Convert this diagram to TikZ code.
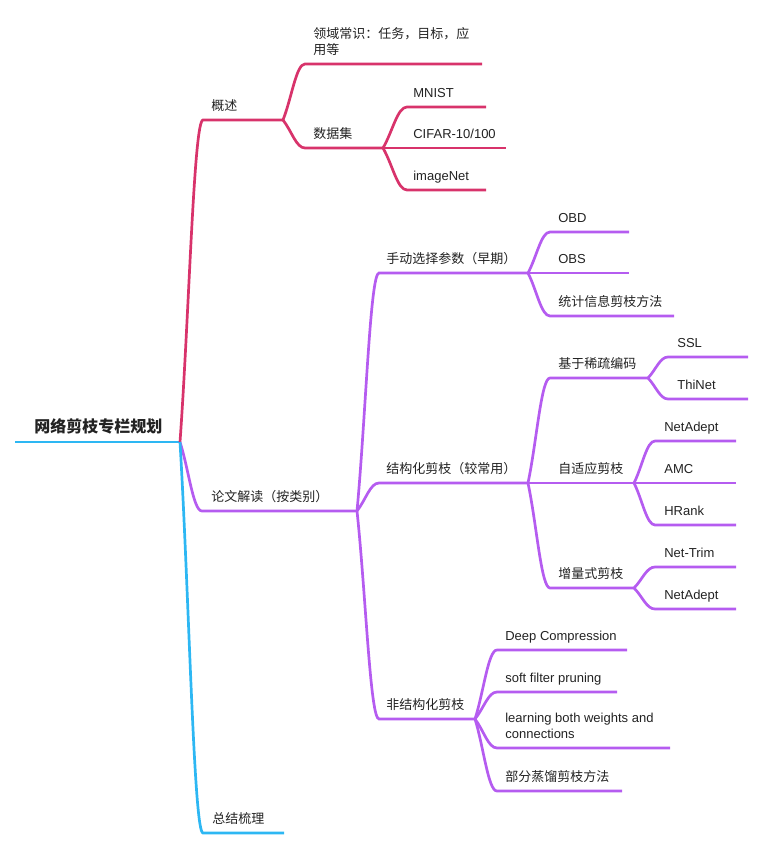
\documentclass[tikz,border=0pt]{standalone}
\usepackage{fontspec}
\setmainfont{Liberation Sans}
\newfontfamily\cjk{Noto Sans CJK SC}
\usetikzlibrary{calc}

\definecolor{rosebr}{HTML}{D8336B}
\definecolor{violbr}{HTML}{B55CF0}
\definecolor{skybr}{HTML}{2DB7F3}
\definecolor{inkgray}{HTML}{222222}

\tikzset{
	twig/.style={to path={.. controls ($(\tikztostart)!0.4!(\tikztotarget)$) and ($(\tikztostart |- \tikztotarget)!0.6!(\tikztotarget)$) .. (\tikztotarget) \tikztonodes}},
	topic/.style={anchor=base west, inner sep=0pt, text=inkgray, font=\fontsize{13}{16}\selectfont\cjk},
	entry/.style={anchor=base west, inner sep=0pt, text=inkgray, font=\fontsize{13}{16}\selectfont},
}

\begin{document}
\begin{tikzpicture}[x=1pt, y=-1pt, line width=2.7pt]
		\useasboundingbox (0,0) rectangle (764,850);
		
		\coordinate (root-s) at (15,442);
		\coordinate (root-e) at (180,442);
		\node[topic, font=\fontsize{16}{19}\selectfont\cjk\bfseries] (root) at (33,432) {网络剪枝专栏规划};
		\draw[skybr] (root-s) -- (root-e);
		
		% 概述
		\coordinate (gs-s) at (203,120);
		\coordinate (gs-e) at (283,120);
		\node[topic] (gs) at (210,110.5) {概述};
		\draw[rosebr] (root-e) to[twig] (gs-s) -- (gs-e);
		
		\coordinate (ly-s) at (305,64);
		\coordinate (ly-e) at (482,64);
		\node[topic, align=left] (ly) at (312,54.5) {领域常识：任务，目标，应\\用等};
		\draw[rosebr] (gs-e) to[twig] (ly-s) -- (ly-e);
		
		\coordinate (sj-s) at (305,148);
		\coordinate (sj-e) at (383,148);
		\node[topic] (sj) at (312,138.5) {数据集};
		\draw[rosebr] (gs-e) to[twig] (sj-s) -- (sj-e);
		
		\coordinate (mnist-s) at (407,107);
		\coordinate (mnist-e) at (486,107);
		\node[entry] (mnist) at (412,97.5) {MNIST};
		\draw[rosebr] (sj-e) to[twig] (mnist-s) -- (mnist-e);
		
		\coordinate (cifar-e) at (506,148);
		\node[entry] (cifar) at (412,138.5) {CIFAR-10/100};
		\draw[rosebr] (sj-e) -- (cifar-e);
		
		\coordinate (inet-s) at (407,190);
		\coordinate (inet-e) at (486,190);
		\node[entry] (inet) at (412,180.5) {imageNet};
		\draw[rosebr] (sj-e) to[twig] (inet-s) -- (inet-e);
		
		% 论文解读
		\coordinate (lw-s) at (202,511);
		\coordinate (lw-e) at (357,511);
		\node[topic] (lw) at (210,501.5) {论文解读（按类别）};
		\draw[violbr] (root-e) to[twig] (lw-s) -- (lw-e);
		
		\coordinate (sd-s) at (379,273);
		\coordinate (sd-e) at (528,273);
		\node[topic] (sd) at (385,263.5) {手动选择参数（早期）};
		\draw[violbr] (lw-e) to[twig] (sd-s) -- (sd-e);
		
		\coordinate (obd-s) at (550,232);
		\coordinate (obd-e) at (629,232);
		\node[entry] (obd) at (557,222.5) {OBD};
		\draw[violbr] (sd-e) to[twig] (obd-s) -- (obd-e);
		
		\coordinate (obs-e) at (629,273);
		\node[entry] (obs) at (557,263.5) {OBS};
		\draw[violbr] (sd-e) -- (obs-e);
		
		\coordinate (tj-s) at (550,316);
		\coordinate (tj-e) at (674,316);
		\node[topic] (tj) at (557,306.5) {统计信息剪枝方法};
		\draw[violbr] (sd-e) to[twig] (tj-s) -- (tj-e);
		
		\coordinate (jg-s) at (379,483);
		\coordinate (jg-e) at (528,483);
		\node[topic] (jg) at (385,473.5) {结构化剪枝（较常用）};
		\draw[violbr] (lw-e) to[twig] (jg-s) -- (jg-e);
		
		\coordinate (xs-s) at (550,378);
		\coordinate (xs-e) at (648,378);
		\node[topic] (xs) at (557,368.5) {基于稀疏编码};
		\draw[violbr] (jg-e) to[twig] (xs-s) -- (xs-e);
		
		\coordinate (ssl-s) at (668,357);
		\coordinate (ssl-e) at (748,357);
		\node[entry] (ssl) at (676,347.5) {SSL};
		\draw[violbr] (xs-e) to[twig] (ssl-s) -- (ssl-e);
		
		\coordinate (thi-s) at (668,399);
		\coordinate (thi-e) at (748,399);
		\node[entry] (thi) at (676,389.5) {ThiNet};
		\draw[violbr] (xs-e) to[twig] (thi-s) -- (thi-e);
		
		\coordinate (zs-e) at (634,483);
		\node[topic] (zs) at (557,473.5) {自适应剪枝};
		\draw[violbr] (jg-e) -- (zs-e);
		
		\coordinate (nad-s) at (655,441);
		\coordinate (nad-e) at (736,441);
		\node[entry] (nad) at (663,431.5) {NetAdept};
		\draw[violbr] (zs-e) to[twig] (nad-s) -- (nad-e);
		
		\coordinate (amc-e) at (736,483);
		\node[entry] (amc) at (663,473.5) {AMC};
		\draw[violbr] (zs-e) -- (amc-e);
		
		\coordinate (hr-s) at (655,525);
		\coordinate (hr-e) at (736,525);
		\node[entry] (hr) at (663,515.5) {HRank};
		\draw[violbr] (zs-e) to[twig] (hr-s) -- (hr-e);
		
		\coordinate (zl-s) at (550,588);
		\coordinate (zl-e) at (634,588);
		\node[topic] (zl) at (557,578.5) {增量式剪枝};
		\draw[violbr] (jg-e) to[twig] (zl-s) -- (zl-e);
		
		\coordinate (ntr-s) at (655,567);
		\coordinate (ntr-e) at (736,567);
		\node[entry] (ntr) at (663,557.5) {Net-Trim};
		\draw[violbr] (zl-e) to[twig] (ntr-s) -- (ntr-e);
		
		\coordinate (nad2-s) at (655,609);
		\coordinate (nad2-e) at (736,609);
		\node[entry] (nad2) at (663,599.5) {NetAdept};
		\draw[violbr] (zl-e) to[twig] (nad2-s) -- (nad2-e);
		
		\coordinate (fj-s) at (379,719);
		\coordinate (fj-e) at (475,719);
		\node[topic] (fj) at (385,709.5) {非结构化剪枝};
		\draw[violbr] (lw-e) to[twig] (fj-s) -- (fj-e);
		
		\coordinate (dc-s) at (497,650);
		\coordinate (dc-e) at (627,650);
		\node[entry] (dc) at (504,640.5) {Deep Compression};
		\draw[violbr] (fj-e) to[twig] (dc-s) -- (dc-e);
		
		\coordinate (sf-s) at (497,692);
		\coordinate (sf-e) at (617,692);
		\node[entry] (sf) at (504,682.5) {soft filter pruning};
		\draw[violbr] (fj-e) to[twig] (sf-s) -- (sf-e);
		
		\coordinate (lb-s) at (497,748);
		\coordinate (lb-e) at (670,748);
		\node[entry, align=left] (lb) at (504,738.5) {learning both weights and\\connections};
		\draw[violbr] (fj-e) to[twig] (lb-s) -- (lb-e);
		
		\coordinate (bf-s) at (497,791);
		\coordinate (bf-e) at (622,791);
		\node[topic] (bf) at (504,781.5) {部分蒸馏剪枝方法};
		\draw[violbr] (fj-e) to[twig] (bf-s) -- (bf-e);
		
		% 总结梳理
		\coordinate (zj-s) at (203,833);
		\coordinate (zj-e) at (284,833);
		\node[topic] (zj) at (211,823.5) {总结梳理};
		\draw[skybr] (root-e) to[twig] (zj-s) -- (zj-e);
	\end{tikzpicture}
\end{document}
